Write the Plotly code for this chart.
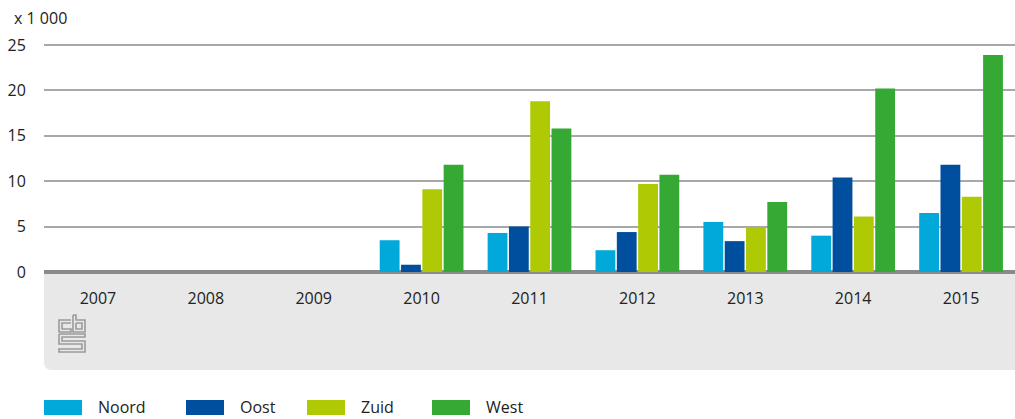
import plotly.graph_objects as go

years = ["2007", "2008", "2009", "2010", "2011", "2012", "2013", "2014", "2015"]
noord = [0, 0, 0, 3.5, 4.3, 2.4, 5.5, 4.0, 6.5]
oost = [0, 0, 0, 0.8, 5.0, 4.4, 3.4, 10.4, 11.8]
zuid = [0, 0, 0, 9.1, 18.8, 9.7, 4.9, 6.1, 8.3]
west = [0, 0, 0, 11.8, 15.8, 10.7, 7.7, 20.2, 23.9]

series_names = ["Noord", "Oost", "Zuid", "West"]
series_values = [noord, oost, zuid, west]
colors = ["#00a9d9", "#004f9e", "#afca05", "#36a935"]

W, H = 1015, 419
YMAX = 25.55
ML, MR, MB = 44, 0, 147
MT = 45 - round((YMAX - 25) * 227 / 25)
PW = W - ML - MR
PH = H - MT - MB
FONT = "Open Sans"


def px(x):
    return (x - ML) / PW


def py(y):
    return (H - MB - y) / PH


fig = go.Figure()
for name, vals, col in zip(series_names, series_values, colors):
    fig.add_trace(go.Bar(x=years, y=vals, name=name, marker=dict(color=col, line=dict(width=0)),
                         showlegend=False, hoverinfo="skip"))

shapes = []
# grey band under the x axis with rounded bottom-left corner
r = 8
band_path = (f"M {px(44)},{py(272)} L {px(1015)},{py(272)} L {px(1015)},{py(370)} "
             f"L {px(44 + r)},{py(370)} Q {px(44)},{py(370)} {px(44)},{py(370 - r)} Z")
shapes.append(dict(type="path", xref="paper", yref="paper", path=band_path,
                   fillcolor="#e8e8e8", line=dict(width=0), layer="below"))

# cbs logo (outline)
logo_paths = [
    [(71, 320), (59, 320), (59, 332), (71, 332), (71, 329), (62, 329), (62, 323), (71, 323)],
    [(73, 315), (76, 315), (76, 320), (85, 320), (85, 332), (73, 332), (73, 315)],
    [(76, 323), (82, 323), (82, 329), (76, 329), (76, 323)],
    [(59, 334), (85, 334), (85, 337), (62, 337), (62, 341), (85, 341), (85, 352), (59, 352),
     (59, 349), (82, 349), (82, 344), (59, 344), (59, 334)],
]
for pts in logo_paths:
    d = "M " + " L ".join(f"{px(a)},{py(b)}" for a, b in pts)
    shapes.append(dict(type="path", xref="paper", yref="paper", path=d,
                       line=dict(color="#9a9a9a", width=1.6)))

# custom legend
legend_swatch_x = [44, 186, 307, 432]
annotations = []
for name, col, sx in zip(series_names, colors, legend_swatch_x):
    shapes.append(dict(type="rect", xref="paper", yref="paper",
                       x0=px(sx), x1=px(sx + 38), y0=py(400), y1=py(415),
                       fillcolor=col, line=dict(width=0)))
    annotations.append(dict(xref="paper", yref="paper", x=px(sx + 52), y=py(407),
                            text=name, showarrow=False, xanchor="left", yanchor="middle",
                            font=dict(family=FONT, size=16, color="#222222")))

annotations.append(dict(xref="paper", yref="paper", x=px(12), y=py(18), text="x 1 000",
                        showarrow=False, xanchor="left", yanchor="middle",
                        font=dict(family=FONT, size=16, color="#222222")))

fig.update_layout(
    width=W, height=H,
    margin=dict(l=ML, r=MR, t=MT, b=MB),
    paper_bgcolor="white", plot_bgcolor="white",
    barmode="group", bargap=0.21, bargroupgap=0.07,
    font=dict(family=FONT, size=16, color="#222222"),
    shapes=shapes, annotations=annotations,
    xaxis=dict(type="category", range=[-0.5, 8.5], showgrid=False, showline=False,
               ticks="outside", ticklen=12, tickcolor="rgba(0,0,0,0)",
               tickfont=dict(family=FONT, size=16, color="#222222")),
    yaxis=dict(range=[0, YMAX], tickvals=[0, 5, 10, 15, 20, 25], showgrid=True,
               gridcolor="#a8a8a8", gridwidth=2,
               zeroline=True, zerolinecolor="#8a8a8a", zerolinewidth=4, showline=False,
               ticks="outside", ticklen=14, tickcolor="rgba(0,0,0,0)",
               tickfont=dict(family=FONT, size=16, color="#222222")),
)

fig.write_html("out.html", config={"displayModeBar": False},
               post_script="document.body.style.margin='0';document.body.style.overflow='hidden';")
